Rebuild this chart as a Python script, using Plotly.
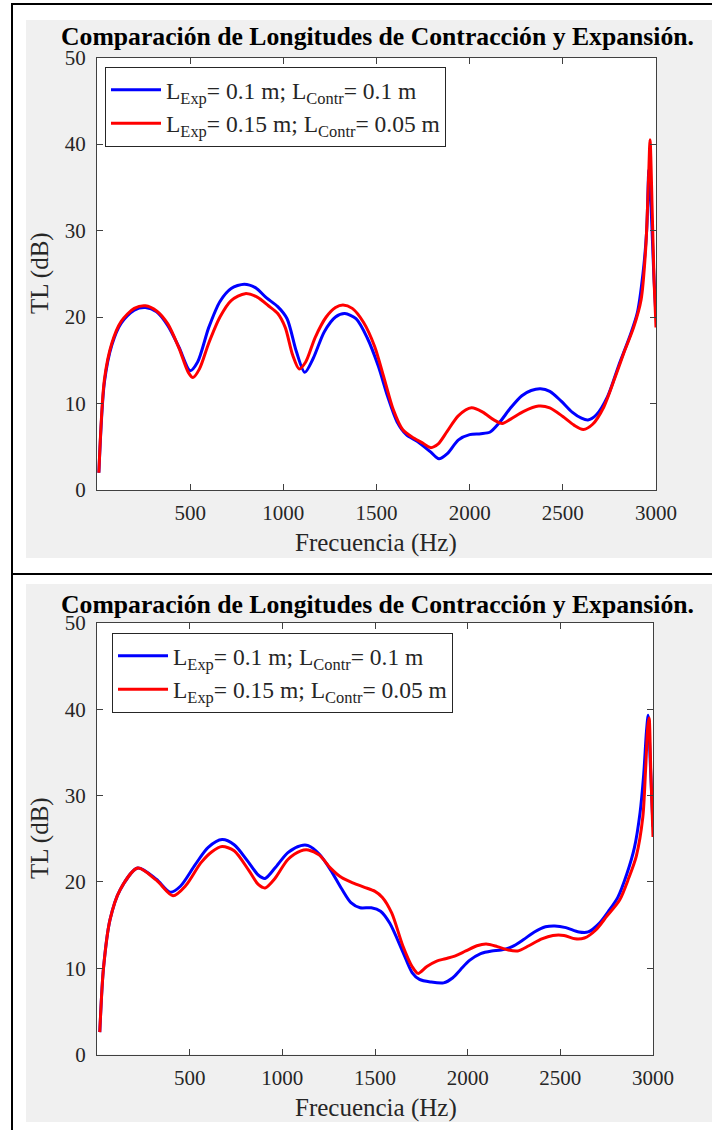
import plotly.graph_objects as go

W, H = 712, 1130

# ---------------- data ----------------
f_top_blue = [10, 40, 80, 130, 200, 260, 320, 380, 440, 500, 540, 600, 660, 720, 790, 850, 910, 970,
              1020, 1070, 1115, 1160, 1220, 1280, 1330, 1390, 1450, 1510, 1560, 1610, 1660, 1720, 1790,
              1835, 1880, 1940, 2000, 2060, 2110, 2160, 2220, 2280, 2330, 2380, 2430, 2490, 2550, 2600,
              2635, 2680, 2740, 2800, 2860, 2900, 2930, 2950, 2962, 2975, 2988, 3000]
tl_top_blue = [2.0, 12.5, 16.8, 19.3, 20.8, 21.1, 20.6, 19.0, 16.5, 13.8, 14.8, 18.8, 21.8, 23.3, 23.8,
               23.4, 22.2, 21.2, 19.8, 16.0, 13.6, 15.2, 18.3, 20.0, 20.4, 19.8, 17.6, 14.3, 10.8, 7.9,
               6.4, 5.6, 4.4, 3.6, 4.2, 5.8, 6.4, 6.5, 6.7, 7.8, 9.5, 10.9, 11.5, 11.7, 11.4, 10.3, 9.0,
               8.3, 8.1, 8.7, 10.8, 14.4, 17.8, 20.5, 25.0, 30.0, 37.0, 32.0, 25.0, 20.0]

f_top_red = [10, 40, 80, 130, 200, 260, 320, 380, 440, 490, 515, 550, 600, 660, 720, 795, 860, 920, 970,
             1010, 1050, 1085, 1120, 1170, 1230, 1280, 1320, 1370, 1430, 1490, 1540, 1590, 1640, 1700,
             1750, 1790, 1830, 1880, 1940, 2010, 2070, 2130, 2175, 2220, 2290, 2370, 2430, 2500, 2560,
             2610, 2660, 2720, 2780, 2830, 2880, 2920, 2945, 2960, 2968, 2980, 2990, 3000]
tl_top_red = [2.0, 12.8, 17.0, 19.5, 21.0, 21.3, 20.7, 19.2, 16.4, 13.6, 13.0, 14.0, 17.0, 20.0, 21.9,
              22.7, 22.3, 21.3, 20.4, 18.8, 15.6, 14.0, 14.8, 17.6, 20.0, 21.1, 21.4, 21.0, 19.4, 16.6,
              13.0, 9.3, 7.0, 6.0, 5.4, 4.9, 5.3, 6.8, 8.6, 9.5, 9.0, 8.1, 7.7, 8.2, 9.1, 9.7, 9.5, 8.5,
              7.5, 7.0, 7.6, 9.6, 13.0, 16.0, 18.8, 22.0, 28.0, 36.0, 40.5, 32.0, 24.0, 18.8]

f_bot_blue = [15, 35, 70, 125, 220, 320, 395, 450, 530, 600, 675, 740, 810, 870, 907, 960, 1030, 1100,
              1140, 1200, 1260, 1320, 1370, 1420, 1480, 1530, 1580, 1650, 1700, 1740, 1800, 1870, 1920,
              1960, 2010, 2070, 2130, 2180, 2240, 2300, 2360, 2420, 2470, 2530, 2600, 2650, 2710, 2760,
              2810, 2860, 2900, 2930, 2950, 2965, 2974, 2985, 3000]
tl_bot_blue = [2.6, 10.0, 15.6, 19.1, 21.6, 20.3, 18.8, 19.5, 22.0, 24.0, 24.9, 24.3, 22.5, 20.8, 20.4,
               21.6, 23.4, 24.2, 24.2, 23.2, 21.4, 19.2, 17.6, 17.0, 17.0, 16.6, 15.2, 11.9, 9.5, 8.7,
               8.4, 8.3, 8.9, 9.8, 10.9, 11.7, 12.0, 12.1, 12.5, 13.3, 14.2, 14.8, 14.9, 14.7, 14.2,
               14.2, 15.2, 16.6, 18.2, 21.0, 24.0, 28.0, 32.5, 37.5, 39.3, 34.0, 26.4]

f_bot_red = [15, 35, 70, 125, 220, 320, 410, 480, 560, 620, 675, 740, 820, 870, 907, 960, 1030, 1100,
             1140, 1200, 1260, 1320, 1380, 1440, 1500, 1540, 1590, 1650, 1700, 1732, 1780, 1830, 1880,
             1930, 1990, 2050, 2100, 2160, 2220, 2270, 2330, 2400, 2460, 2520, 2580, 2630, 2690, 2750,
             2820, 2870, 2910, 2945, 2960, 2972, 2979, 2988, 3000]
tl_bot_red = [2.6, 10.0, 15.6, 19.1, 21.6, 20.2, 18.4, 19.6, 22.2, 23.5, 24.1, 23.6, 21.3, 19.7, 19.3,
              20.4, 22.6, 23.6, 23.7, 23.1, 21.6, 20.5, 19.9, 19.4, 18.9, 18.2, 16.4, 12.6, 10.2, 9.4,
              10.2, 10.8, 11.1, 11.4, 12.0, 12.6, 12.8, 12.5, 12.1, 12.0, 12.6, 13.4, 13.8, 13.8, 13.4,
              13.5, 14.4, 16.0, 17.9, 20.5, 23.0, 27.5, 33.0, 38.0, 39.0, 33.0, 25.2]

x_ticks = [500, 1000, 1500, 2000, 2500, 3000]
y_ticks = [0, 10, 20, 30, 40, 50]
name_blue = "L<sub>Exp</sub>= 0.1 m; L<sub>Contr</sub>= 0.1 m"
name_red = "L<sub>Exp</sub>= 0.15 m; L<sub>Contr</sub>= 0.05 m"
title_text = "<b>Comparación de Longitudes de Contracción y Expansión.</b>"
x_title = "Frecuencia (Hz)"
y_title = "TL (dB)"

# ---------------- layout helpers ----------------
def px(x):
    return x / W

def py(y):
    return 1 - y / H

FONT = "Liberation Serif"
TXT = "#262626"
BLUE = "#0000ff"
RED = "#ff0000"
LW = 3

fig = go.Figure()

fig.add_trace(go.Scatter(x=f_top_blue, y=tl_top_blue, mode="lines", name=name_blue,
                         line=dict(color=BLUE, width=LW, shape="spline", smoothing=0.8),
                         xaxis="x", yaxis="y", legend="legend"))
fig.add_trace(go.Scatter(x=f_top_red, y=tl_top_red, mode="lines", name=name_red,
                         line=dict(color=RED, width=LW, shape="spline", smoothing=0.8),
                         xaxis="x", yaxis="y", legend="legend"))
fig.add_trace(go.Scatter(x=f_bot_blue, y=tl_bot_blue, mode="lines", name=name_blue,
                         line=dict(color=BLUE, width=LW, shape="spline", smoothing=0.8),
                         xaxis="x2", yaxis="y2", legend="legend2"))
fig.add_trace(go.Scatter(x=f_bot_red, y=tl_bot_red, mode="lines", name=name_red,
                         line=dict(color=RED, width=LW, shape="spline", smoothing=0.8),
                         xaxis="x2", yaxis="y2", legend="legend2"))

axis_common = dict(showline=True, linecolor="#404040", linewidth=1, mirror="ticks",
                   ticks="inside", ticklen=6, tickcolor="#404040", showgrid=False, zeroline=False,
                   automargin=False, tickfont=dict(family=FONT, size=21, color=TXT))
xaxis_extra = dict(ticklabelstandoff=4)
yaxis_extra = dict(ticklabelstandoff=6)

legend_common = dict(xanchor="left", yanchor="top", bgcolor="white", bordercolor="#262626",
                     borderwidth=1, font=dict(family=FONT, size=23.5, color=TXT), tracegroupgap=0,
                     itemwidth=50)

fig.update_layout(
    width=W, height=H, autosize=False,
    margin=dict(l=0, r=0, t=0, b=0, pad=0, autoexpand=False),
    paper_bgcolor="#f0f0f0", plot_bgcolor="white",
    xaxis=dict(domain=[px(97), px(656)], range=[0, 3000], tickvals=x_ticks, anchor="y",
               **axis_common, **xaxis_extra),
    yaxis=dict(domain=[py(490), py(57.5)], range=[0, 50], tickvals=y_ticks, anchor="x",
               **axis_common, **yaxis_extra),
    xaxis2=dict(domain=[px(97), px(653)], range=[0, 3000], tickvals=x_ticks, anchor="y2",
                **axis_common, **xaxis_extra),
    yaxis2=dict(domain=[py(1054.5), py(623)], range=[0, 50], tickvals=y_ticks, anchor="x2",
                **axis_common, **yaxis_extra),
    legend=dict(x=px(105), y=py(67), **legend_common),
    legend2=dict(x=px(112), y=py(633), **legend_common),
    showlegend=True,
)

shapes = []
# white strips outside the grey figure areas
for (x0, y0, x1, y1) in [(0, 0, W, 20), (0, 0, 26, H), (0, 558, W, 584), (0, 1122, W, H)]:
    shapes.append(dict(type="rect", xref="paper", yref="paper", x0=px(x0), x1=px(x1),
                       y0=py(y1), y1=py(y0), fillcolor="white", line=dict(width=0), layer="below"))
# black table borders
shapes.append(dict(type="line", xref="paper", yref="paper", x0=px(11), x1=1, y0=py(4), y1=py(4),
                   line=dict(color="black", width=2)))
shapes.append(dict(type="line", xref="paper", yref="paper", x0=px(11), x1=1, y0=py(574), y1=py(574),
                   line=dict(color="black", width=2)))
shapes.append(dict(type="line", xref="paper", yref="paper", x0=px(12), x1=px(12), y0=0, y1=py(3),
                   line=dict(color="black", width=2)))
fig.update_layout(shapes=shapes)

annots = []
for (ty, xl_y, yl_y) in [(36.5, 543, 273), (604.5, 1108, 838)]:
    annots.append(dict(text=title_text, x=px(377.5), y=py(ty), xref="paper", yref="paper",
                       xanchor="center", yanchor="middle", showarrow=False,
                       font=dict(family=FONT, size=25.7, color="black")))
    annots.append(dict(text=x_title, x=px(376), y=py(xl_y), xref="paper", yref="paper",
                       xanchor="center", yanchor="middle", showarrow=False,
                       font=dict(family=FONT, size=25, color=TXT)))
    annots.append(dict(text=y_title, x=px(40), y=py(yl_y), xref="paper", yref="paper",
                       xanchor="center", yanchor="middle", showarrow=False, textangle=-90,
                       font=dict(family=FONT, size=25, color=TXT)))
fig.update_layout(annotations=annots)

# place the figure at the page origin so that the page is exactly the figure
post = ("document.body.style.margin='0';document.body.style.padding='0';"
        "var d=document.getElementById('{plot_id}');d.style.position='absolute';"
        "d.style.left='0px';d.style.top='0px';")
fig.write_html("out.html", post_script=post,
               config={"displayModeBar": False, "responsive": False})
